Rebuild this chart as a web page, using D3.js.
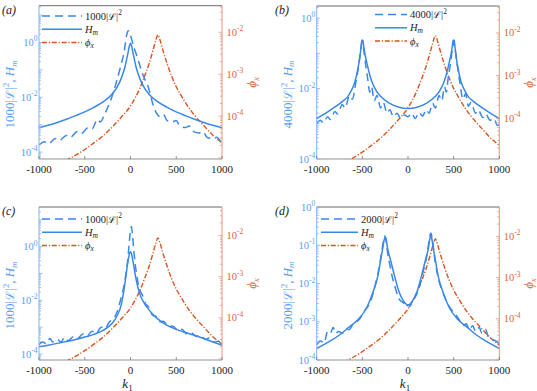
<!DOCTYPE html>
<html>
<head>
<meta charset="utf-8">
<script src="https://d3js.org/d3.v7.min.js"></script>
<style>
  body { margin: 0; background: #fff; }
</style>
</head>
<body>
<div id="chart"></div>
<script>
// Four panels: |L|^2 (dashed), H_m (solid) on the left log axis, phi_x (dash-dot) on the right log axis

// phi_x, same curve in every panel
const kPhi = [-1000, -700, -500, -400, -300, -200, -100, 0, 50, 100, 150, 200, 250, 275, 300, 325, 350, 400, 450, 500, 550, 600, 700, 800, 900, 1000];
const phiX = [4.5e-6, 8.9e-6, 1.6e-5, 2.3e-5, 3.4e-5, 5.5e-5, 9.5e-5, 1.75e-4, 2.7e-4, 4.5e-4, 8.5e-4, 1.7e-3, 4.0e-3, 6.3e-3, 8.7e-3, 6.3e-3, 4.0e-3, 1.78e-3, 8.9e-4, 5.0e-4, 3.2e-4, 2.1e-4, 1.05e-4, 6.0e-5, 3.5e-5, 2.3e-5];

// (a)
const kHmA = [-1000, -900, -800, -700, -600, -500, -400, -300, -200, -150, -100, -60, -30, -10, 0, 10, 30, 60, 100, 150, 200, 300, 400, 500, 600, 700, 800, 900, 1000];
const hmA = [7.8e-4, 9.5e-4, 1.2e-3, 1.58e-3, 2.14e-3, 2.95e-3, 4.3e-3, 6.8e-3, 0.0132, 0.0224, 0.05, 0.13, 0.38, 0.79, 0.93, 0.79, 0.38, 0.13, 0.05, 0.0224, 0.0132, 6.8e-3, 4.3e-3, 2.95e-3, 2.14e-3, 1.58e-3, 1.2e-3, 9.5e-4, 7.8e-4];
const kLA = [-1000, -940, -900, -820, -780, -700, -660, -580, -540, -460, -420, -360, -330, -280, -240, -200, -150, -110, -70, -40, -25, -10, 10, 30, 50, 80, 110, 150, 180, 210, 240, 280, 320, 360, 400, 450, 500, 540, 600, 640, 690, 750, 790, 840, 900, 940, 1000];
const lA = [1.82e-4, 2.4e-4, 2.0e-4, 3.16e-4, 2.63e-4, 4.0e-4, 3.4e-4, 5.6e-4, 4.7e-4, 7.9e-4, 7.1e-4, 1.58e-3, 1.26e-3, 2.5e-3, 5.0e-3, 0.0112, 0.04, 0.126, 0.45, 2.0, 2.7, 2.24, 1.41, 0.79, 0.5, 0.25, 0.12, 0.05, 0.0316, 0.0158, 6.3e-3, 2.8e-3, 2.0e-3, 2.4e-3, 1.41e-3, 1.26e-3, 1.41e-3, 8.9e-4, 7.9e-4, 8.9e-4, 5.6e-4, 5.0e-4, 5.6e-4, 3.4e-4, 3.16e-4, 3.5e-4, 1.9e-4];

// (b)
const kHmB = [-1000, -900, -800, -700, -660, -620, -580, -550, -530, -520, -505, -500, -495, -480, -450, -420, -400, -350, -300, -200, -100, 0, 100, 200, 300, 350, 400, 420, 450, 480, 495, 500, 505, 520, 530, 550, 580, 620, 660, 700, 800, 900, 1000];
const hmB = [1.41e-3, 2.0e-3, 3.0e-3, 4.7e-3, 5.9e-3, 8.9e-3, 0.0158, 0.0355, 0.0708, 0.112, 0.234, 0.24, 0.234, 0.126, 0.0525, 0.0251, 0.017, 8.9e-3, 6.0e-3, 3.8e-3, 2.95e-3, 2.7e-3, 2.95e-3, 3.8e-3, 6.0e-3, 8.9e-3, 0.017, 0.0251, 0.0525, 0.126, 0.234, 0.24, 0.234, 0.112, 0.0708, 0.0355, 0.0158, 8.9e-3, 5.9e-3, 4.7e-3, 3.0e-3, 2.0e-3, 1.41e-3];
const kLB = [-1000, -960, -930, -880, -850, -800, -770, -720, -690, -640, -610, -570, -540, -515, -500, -485, -465, -440, -420, -400, -370, -340, -300, -270, -230, -200, -160, -120, -80, -40, 0, 40, 80, 120, 160, 200, 230, 270, 300, 340, 370, 400, 420, 440, 465, 485, 500, 515, 540, 570, 600, 630, 660, 690, 740, 770, 820, 850, 900, 940, 980, 1000];
const lB = [1.02e-3, 1.26e-3, 1.07e-3, 1.58e-3, 1.32e-3, 2.24e-3, 1.9e-3, 3.5e-3, 2.8e-3, 6.3e-3, 5.0e-3, 0.0158, 0.0447, 0.141, 0.209, 0.126, 0.05, 0.0178, 7.9e-3, 0.0112, 4.5e-3, 6.3e-3, 2.8e-3, 4.0e-3, 2.0e-3, 2.5e-3, 1.58e-3, 2.0e-3, 1.41e-3, 1.78e-3, 1.58e-3, 2.0e-3, 1.41e-3, 2.1e-3, 1.66e-3, 2.5e-3, 2.0e-3, 3.8e-3, 2.8e-3, 6.3e-3, 4.5e-3, 0.0112, 7.9e-3, 0.02, 0.05, 0.126, 0.209, 0.141, 0.0447, 0.0141, 5.0e-3, 7.1e-3, 3.16e-3, 4.0e-3, 2.0e-3, 2.5e-3, 1.51e-3, 1.9e-3, 1.26e-3, 1.41e-3, 8.9e-4, 1.0e-3];

// (c)
const kHmC = [-1000, -900, -800, -700, -600, -500, -400, -300, -200, -150, -100, -60, -30, -10, 0, 10, 30, 60, 100, 150, 200, 300, 400, 500, 600, 700, 800, 900, 1000];
const hmC = [1.86e-4, 2.14e-4, 2.5e-4, 2.95e-4, 3.5e-4, 4.3e-4, 5.4e-4, 7.6e-4, 1.41e-3, 2.5e-3, 7.1e-3, 0.0447, 0.251, 0.562, 0.646, 0.562, 0.251, 0.063, 0.0178, 7.9e-3, 4.5e-3, 2.0e-3, 1.17e-3, 8.3e-4, 6.3e-4, 5.0e-4, 3.8e-4, 2.8e-4, 2.14e-4];
const kLC = [-1000, -960, -920, -880, -850, -800, -760, -720, -680, -620, -580, -520, -480, -420, -380, -320, -280, -230, -190, -150, -110, -80, -50, -30, -15, 0, 10, 20, 35, 50, 70, 100, 130, 160, 200, 240, 280, 320, 360, 420, 460, 520, 560, 620, 660, 720, 760, 820, 860, 920, 960, 1000];
const lC = [2.24e-4, 2.8e-4, 2.4e-4, 3.8e-4, 2.8e-4, 3.5e-4, 2.8e-4, 4.2e-4, 3.16e-4, 4.5e-4, 3.8e-4, 5.6e-4, 4.5e-4, 7.1e-4, 5.6e-4, 1.0e-3, 8.9e-4, 1.58e-3, 2.0e-3, 3.5e-3, 0.01, 0.0251, 0.1, 0.316, 1.26, 3.98, 5.6, 3.16, 0.79, 0.251, 0.079, 0.0251, 0.0158, 7.9e-3, 5.6e-3, 2.8e-3, 2.5e-3, 1.58e-3, 1.66e-3, 1.05e-3, 1.12e-3, 7.6e-4, 8.3e-4, 5.6e-4, 6.3e-4, 4.5e-4, 5.0e-4, 3.5e-4, 4.0e-4, 2.8e-4, 3.0e-4, 2.0e-4];

// (d)
const kHmD = [-1000, -850, -750, -650, -550, -450, -380, -330, -300, -280, -260, -250, -240, -220, -190, -150, -100, -50, 0, 50, 100, 150, 190, 220, 240, 250, 260, 280, 300, 330, 380, 450, 550, 650, 750, 850, 1000];
const hmD = [2.0e-4, 3.16e-4, 4.5e-4, 7.1e-4, 1.12e-3, 2.4e-3, 6.3e-3, 0.0158, 0.04, 0.076, 0.141, 0.166, 0.141, 0.076, 0.04, 0.0166, 6.3e-3, 3.5e-3, 2.75e-3, 3.5e-3, 6.3e-3, 0.0166, 0.04, 0.076, 0.15, 0.18, 0.15, 0.076, 0.04, 0.0158, 6.3e-3, 2.4e-3, 1.12e-3, 7.1e-4, 4.5e-4, 3.16e-4, 2.0e-4];
const kLD = [-1000, -960, -920, -880, -850, -820, -790, -760, -720, -680, -640, -600, -560, -520, -480, -440, -400, -360, -330, -300, -280, -265, -255, -245, -235, -220, -200, -170, -140, -110, -80, -50, -20, 0, 20, 50, 80, 110, 140, 170, 200, 220, 240, 250, 260, 275, 290, 310, 340, 370, 400, 440, 480, 520, 560, 600, 640, 670, 710, 740, 780, 810, 850, 880, 920, 960, 1000];
const lD = [2.5e-4, 3.16e-4, 2.8e-4, 5.6e-4, 5.0e-4, 7.1e-4, 5.0e-4, 5.6e-4, 5.0e-4, 6.0e-4, 6.3e-4, 8.9e-4, 1.0e-3, 1.26e-3, 1.9e-3, 2.5e-3, 4.0e-3, 8.9e-3, 0.0178, 0.0447, 0.089, 0.141, 0.174, 0.158, 0.112, 0.056, 0.0316, 0.0141, 7.9e-3, 4.5e-3, 3.5e-3, 3.16e-3, 2.4e-3, 2.8e-3, 2.5e-3, 3.5e-3, 4.5e-3, 6.3e-3, 0.0112, 0.0224, 0.0447, 0.089, 0.178, 0.209, 0.178, 0.1, 0.05, 0.0251, 0.0112, 7.1e-3, 4.5e-3, 2.8e-3, 2.0e-3, 1.58e-3, 1.12e-3, 7.9e-4, 8.9e-4, 6.3e-4, 7.9e-4, 5.6e-4, 7.1e-4, 5.0e-4, 6.3e-4, 4.0e-4, 3.5e-4, 3.16e-4, 2.7e-4];

const xTicks = [-1000, -500, 0, 500, 1000];
const rTicks = [1e-4, 1e-3, 1e-2];

const blue = "#3a87ea", blueAxis = "#80b3f2", blueText = "#5a9df0";
const red = "#d9531e", redAxis = "#e9937c", redText = "#e0623f";
const dashL = "8,5", dashPhi = "5,1.8,1.2,1.8";

const panels = [
  { tag: "(a)", tagX: 2, scale: "1000", left: 39, right: 222, top: 5.7, bottom: 159,
    yL: [5.6e-5, 22], yLTicks: [1e-4, 1e-2, 1], yR: [9.5e-6, 0.043],
    kH: kHmA, h: hmA, kL: kLA, l: lA, legX: 42, legY: 16, legLen: 40 },
  { tag: "(b)", tagX: 275, scale: "4000", left: 316.7, right: 499.3, top: 6, bottom: 159,
    yL: [1e-4, 2.2], yLTicks: [1e-4, 1e-2, 1], yR: [1.1e-5, 0.043],
    kH: kHmB, h: hmB, kL: kLB, l: lB, legX: 375, legY: 14.5, legLen: 32 },
  { tag: "(c)", tagX: 2, scale: "1000", left: 39, right: 222, top: 207, bottom: 360,
    yL: [6.0e-5, 30], yLTicks: [1e-4, 1e-2, 1], yR: [9.5e-6, 0.049],
    kH: kHmC, h: hmC, kL: kLC, l: lC, legX: 42, legY: 219, legLen: 40, xlabel: true },
  { tag: "(d)", tagX: 275, scale: "2000", left: 316.7, right: 499.3, top: 207, bottom: 360,
    yL: [1e-4, 1], yLTicks: [1e-4, 1e-3, 1e-2, 1e-1, 1], yR: [1e-5, 0.052],
    kH: kHmD, h: hmD, kL: kLD, l: lD, legX: 321, legY: 219, legLen: 37, xlabel: true }
];

const svg = d3.select("#chart").append("svg")
  .attr("width", 537).attr("height", 391)
  .attr("font-family", "'Liberation Serif', 'Times New Roman', 'DejaVu Serif', serif");

// "10" with a raised exponent
function powLabel(sel, v) {
  sel.append("tspan").text("10");
  sel.append("tspan").attr("dy", -4.5).attr("font-size", 7.5)
    .text(String(Math.round(Math.log10(v))));
}

// "1000|L|^2" style text
function ellText(sel, scale, size) {
  sel.append("tspan").text(scale + "|");
  sel.append("tspan").attr("font-family", "'DejaVu Serif', serif").attr("font-size", size * 0.9).text("ℒ");
  sel.append("tspan").text("|");
  sel.append("tspan").attr("dy", -size * 0.4).attr("font-size", size * 0.7).text("2");
}

// ticks on a log scale: [value, isDecade]
function logTicks(sc) {
  const [lo, hi] = sc.domain();
  const out = [];
  for (let n = Math.floor(Math.log10(lo)); n <= Math.ceil(Math.log10(hi)); n++) {
    for (let m = 1; m <= 9; m++) {
      const v = m * Math.pow(10, n);
      if (v >= lo && v <= hi) out.push([v, m === 1]);
    }
  }
  return out;
}

panels.forEach((p, i) => {
  const x = d3.scaleLinear().domain([-1000, 1000]).range([p.left, p.right]);
  const yL = d3.scaleLog().domain(p.yL).range([p.bottom, p.top]);
  const yR = d3.scaleLog().domain(p.yR).range([p.bottom, p.top]);
  const g = svg.append("g");

  g.append("clipPath").attr("id", "clip" + i).append("rect")
    .attr("x", p.left).attr("y", p.top)
    .attr("width", p.right - p.left).attr("height", p.bottom - p.top);

  const plot = g.append("g").attr("clip-path", `url(#clip${i})`);

  const lineL = d3.line().x(d => x(d[0])).y(d => yL(d[1])).curve(d3.curveMonotoneX);
  const lineR = d3.line().x(d => x(d[0])).y(d => yR(d[1])).curve(d3.curveMonotoneX);

  // red phi_x
  plot.append("path")
    .datum(d3.zip(kPhi, phiX))
    .attr("d", lineR)
    .attr("fill", "none").attr("stroke", red).attr("stroke-width", 1.4)
    .attr("stroke-dasharray", dashPhi);

  // solid H_m
  plot.append("path")
    .datum(d3.zip(p.kH, p.h))
    .attr("d", lineL)
    .attr("fill", "none").attr("stroke", blue).attr("stroke-width", 1.5);

  // dashed |L|^2
  plot.append("path")
    .datum(d3.zip(p.kL, p.l))
    .attr("d", lineL)
    .attr("fill", "none").attr("stroke", blue).attr("stroke-width", 1.5)
    .attr("stroke-dasharray", dashL);

  // box lines
  g.append("line").attr("x1", p.left).attr("x2", p.right).attr("y1", p.top).attr("y2", p.top)
    .attr("stroke", "#444").attr("stroke-width", 0.8);
  g.append("line").attr("x1", p.left).attr("x2", p.right).attr("y1", p.bottom).attr("y2", p.bottom)
    .attr("stroke", "#777").attr("stroke-width", 0.8);
  g.append("line").attr("x1", p.left).attr("x2", p.left).attr("y1", p.top).attr("y2", p.bottom)
    .attr("stroke", blueAxis).attr("stroke-width", 1);
  g.append("line").attr("x1", p.right).attr("x2", p.right).attr("y1", p.top).attr("y2", p.bottom)
    .attr("stroke", redAxis).attr("stroke-width", 1);

  // x ticks
  xTicks.forEach(t => {
    g.append("line").attr("x1", x(t)).attr("x2", x(t))
      .attr("y1", p.bottom).attr("y2", p.bottom - 3)
      .attr("stroke", "#666").attr("stroke-width", 0.7);
    g.append("text").attr("x", x(t)).attr("y", p.bottom + 14)
      .attr("text-anchor", "middle").attr("font-size", 11).attr("fill", "#222")
      .text(t);
  });

  // log ticks, left and right
  logTicks(yL).forEach(([v, major]) => {
    g.append("line").attr("x1", p.left).attr("x2", p.left + (major ? 3.5 : 2))
      .attr("y1", yL(v)).attr("y2", yL(v))
      .attr("stroke", blueAxis).attr("stroke-width", 0.8);
  });
  logTicks(yR).forEach(([v, major]) => {
    g.append("line").attr("x1", p.right).attr("x2", p.right - (major ? 3.5 : 2))
      .attr("y1", yR(v)).attr("y2", yR(v))
      .attr("stroke", redAxis).attr("stroke-width", 0.8);
  });

  p.yLTicks.forEach(v => {
    const t = g.append("text").attr("x", p.left - 1.5).attr("y", yL(v) + 3.5)
      .attr("text-anchor", "end").attr("font-size", 10.5).attr("fill", blueText);
    powLabel(t, v);
  });
  rTicks.forEach(v => {
    const t = g.append("text").attr("x", p.right + 4.5).attr("y", yR(v) + 3.5)
      .attr("text-anchor", "start").attr("font-size", 10.5).attr("fill", redText);
    powLabel(t, v);
  });

  // panel tag
  g.append("text").attr("x", p.tagX).attr("y", p.top + 8)
    .attr("font-size", 12).attr("font-style", "italic").attr("fill", "#222")
    .text(p.tag);

  // left y label
  const cy = (p.top + p.bottom) / 2;
  const yl = g.append("text")
    .attr("transform", `translate(${p.left - 25},${cy + 12}) rotate(-90)`)
    .attr("text-anchor", "middle").attr("font-size", 13).attr("fill", blueText);
  ellText(yl, p.scale, 13);
  yl.append("tspan").attr("dy", 13 * 0.4).text(", ");
  yl.append("tspan").attr("font-style", "italic").text("H");
  yl.append("tspan").attr("font-style", "italic").attr("font-size", 9).attr("dy", 2.5).text("m");

  // right y label
  const yr = g.append("text")
    .attr("transform", `translate(${p.right + 34},${cy}) rotate(-90)`)
    .attr("text-anchor", "middle").attr("font-size", 13).attr("fill", redText);
  yr.append("tspan").attr("font-style", "italic").text("ϕ");
  yr.append("tspan").attr("font-style", "italic").attr("font-size", 9).attr("dy", 2.5).text("x");

  // x label
  if (p.xlabel) {
    const xl = g.append("text").attr("x", (p.left + p.right) / 2 - 3).attr("y", p.bottom + 28)
      .attr("text-anchor", "middle").attr("font-size", 13).attr("fill", "#222");
    xl.append("tspan").attr("font-style", "italic").text("k");
    xl.append("tspan").attr("font-size", 9).attr("dy", 2.5).text("1");
  }

  // legend
  const items = [
    { dash: dashL, color: blue, label: "L" },
    { dash: null, color: blue, label: "H" },
    { dash: dashPhi, color: red, label: "phi" }
  ];
  items.forEach((it, j) => {
    const ly = p.legY + j * 13.3;
    g.append("line").attr("x1", p.legX).attr("x2", p.legX + p.legLen)
      .attr("y1", ly).attr("y2", ly)
      .attr("stroke", it.color).attr("stroke-width", 1.5)
      .attr("stroke-dasharray", it.dash);
    const t = g.append("text").attr("x", p.legX + p.legLen + 3).attr("y", ly + 3.5)
      .attr("font-size", 10.5).attr("fill", "#222");
    if (it.label === "L") {
      ellText(t, p.scale, 10.5);
    } else if (it.label === "H") {
      t.append("tspan").attr("font-style", "italic").text("H");
      t.append("tspan").attr("font-style", "italic").attr("font-size", 7.5).attr("dy", 2).text("m");
    } else {
      t.append("tspan").attr("font-style", "italic").text("ϕ");
      t.append("tspan").attr("font-style", "italic").attr("font-size", 7.5).attr("dy", 2).text("x");
    }
  });
});
</script>
</body>
</html>
